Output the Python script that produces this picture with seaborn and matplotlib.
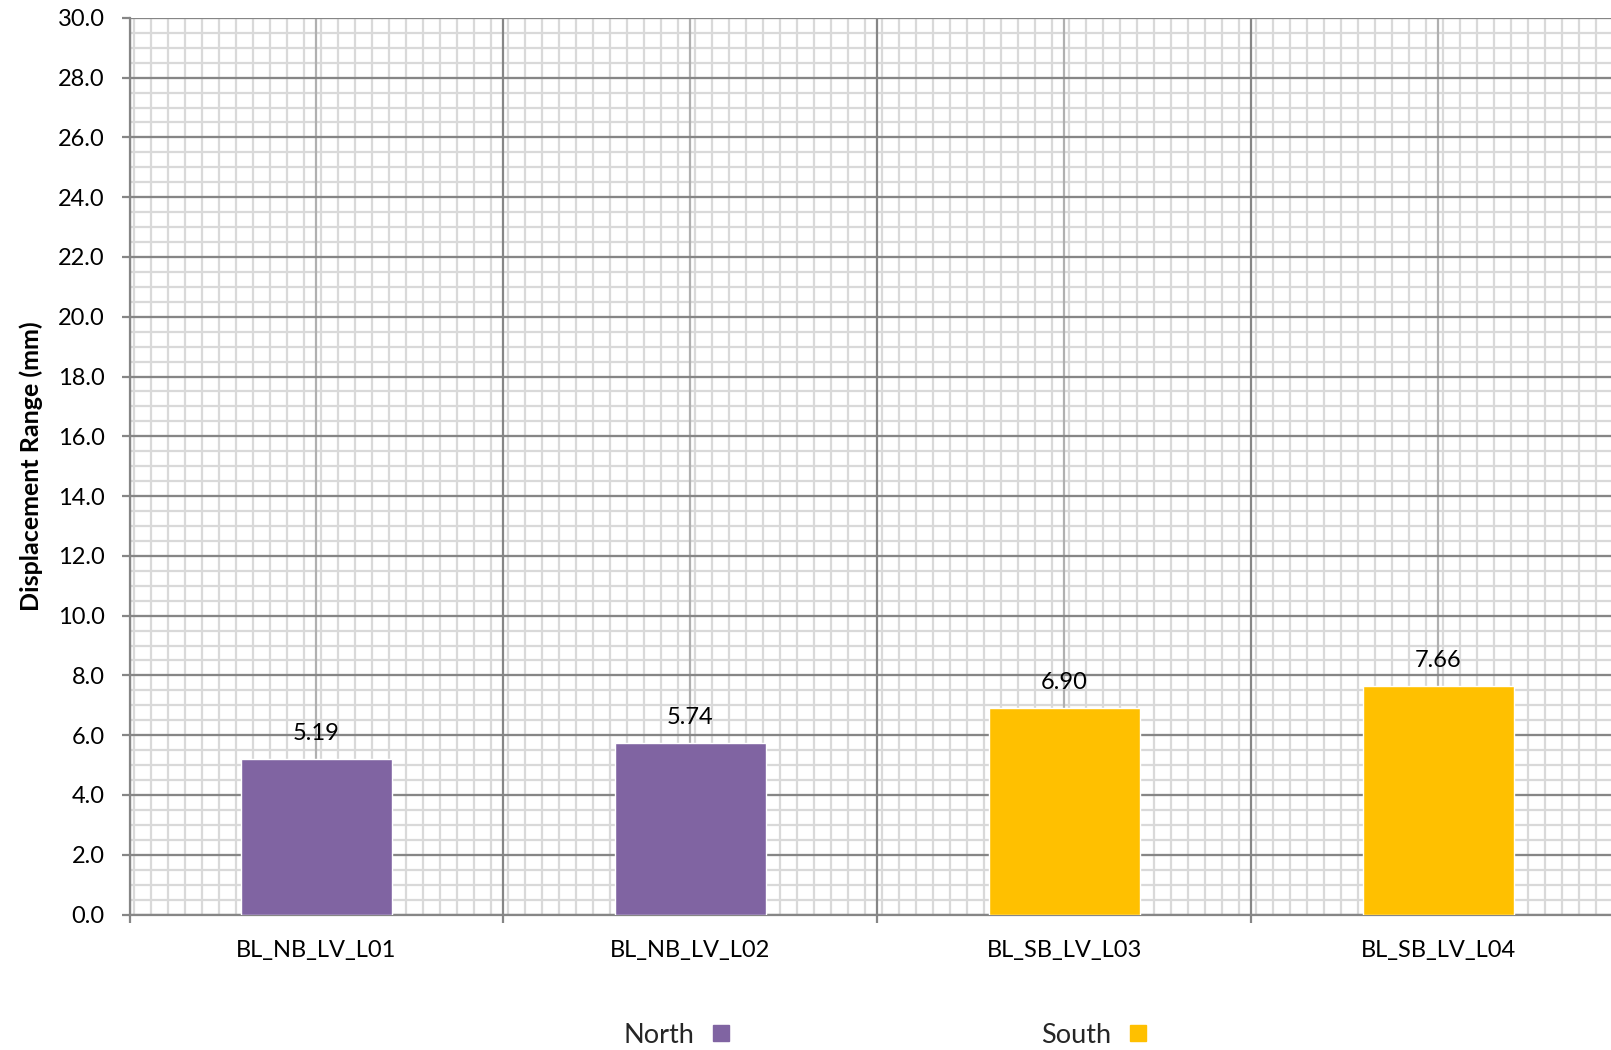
import numpy as np
import pandas as pd
import matplotlib
matplotlib.use('Agg')
import matplotlib.pyplot as plt
from matplotlib.lines import Line2D
from matplotlib.ticker import MultipleLocator
import seaborn as sns

# 数据
SENSORS = ['BL_NB_LV_L01', 'BL_NB_LV_L02', 'BL_SB_LV_L03', 'BL_SB_LV_L04']
REGIONS = ['North', 'North', 'South', 'South']
DISPLACEMENT = [5.19, 5.74, 6.90, 7.66]
COLORS = {'North': '#8064A2', 'South': '#FFC000'}

sns.set_theme(style='white')
plt.rcParams['font.family'] = ['Lato', 'DejaVu Sans']

df = pd.DataFrame({'sensor': SENSORS, 'region': REGIONS,
                   'value': DISPLACEMENT})

fig = plt.figure(figsize=(16.11, 10.5), dpi=100)
ax = fig.add_axes([0.0804, 0.129, 0.9284, 0.854])

# 网格线
n_cat = len(SENSORS)
ax.hlines(np.arange(0, 30.01, 0.5), -0.5, n_cat - 0.5,
          colors='#d9d9d9', linewidth=1.6, zorder=0)
ax.vlines(np.arange(-0.5 + 0.012, n_cat - 0.5, 1 / 22), 0, 30,
          colors='#d9d9d9', linewidth=1.6, zorder=0)
ax.vlines(np.arange(n_cat), 0, 30, colors='#b0b0b0',
          linewidth=1.6, zorder=0.5)
ax.hlines(np.arange(0, 30.01, 2.0), -0.5, n_cat - 0.5,
          colors='#868686', linewidth=1.6, zorder=1)
ax.vlines(np.arange(-0.5, n_cat, 1.0), 0, 30, colors='#868686',
          linewidth=1.6, zorder=1)

sns.barplot(data=df, x='sensor', y='value', hue='region',
            palette=COLORS, dodge=False, width=0.405, legend=False,
            saturation=1, ax=ax, zorder=3)

for p, v in zip(ax.patches, DISPLACEMENT):
    ax.text(p.get_x() + p.get_width() / 2, v + 0.5, f'{v:.2f}',
            ha='center', va='bottom', fontsize=17, color='black')

ax.set_xlim(-0.5, n_cat - 0.5)
ax.set_ylim(0, 30)
ax.yaxis.set_major_locator(MultipleLocator(2.0))
ax.set_yticklabels([f'{t:.1f}' for t in ax.get_yticks()])
ax.set_xticks(range(n_cat))
ax.set_xticklabels(SENSORS)
ax.set_xticks(np.arange(-0.5, n_cat, 1.0), minor=True)
ax.tick_params(axis='x', which='major', length=0, pad=18,
               labelsize=17, colors='black')
ax.tick_params(axis='x', which='minor', length=6, width=1.6,
               color='#868686', bottom=True)
ax.tick_params(axis='y', length=6, width=1.6, color='#868686',
               pad=12, labelsize=17, labelcolor='black', left=True)

for side in ['top', 'right']:
    ax.spines[side].set_visible(False)
for side in ['left', 'bottom']:
    ax.spines[side].set_color('#868686')
    ax.spines[side].set_linewidth(1.6)

ax.set_xlabel('')
ax.set_ylabel('Displacement Range (mm)', fontsize=18,
              fontweight='bold', color='black')
ax.yaxis.set_label_coords(-0.058, 0.5)

handles = [Line2D([], [], marker='s', linestyle='none', markersize=12,
                  markerfacecolor=COLORS[r], markeredgecolor=COLORS[r],
                  label=r) for r in ['North', 'South']]
fig.legend(handles=handles, loc='center', bbox_to_anchor=(0.551, 0.014),
           ncol=2, frameon=False, markerfirst=False, fontsize=19.5,
           columnspacing=11.3, handletextpad=0.5, handlelength=1.0)

plt.savefig('out.png', dpi=100)
